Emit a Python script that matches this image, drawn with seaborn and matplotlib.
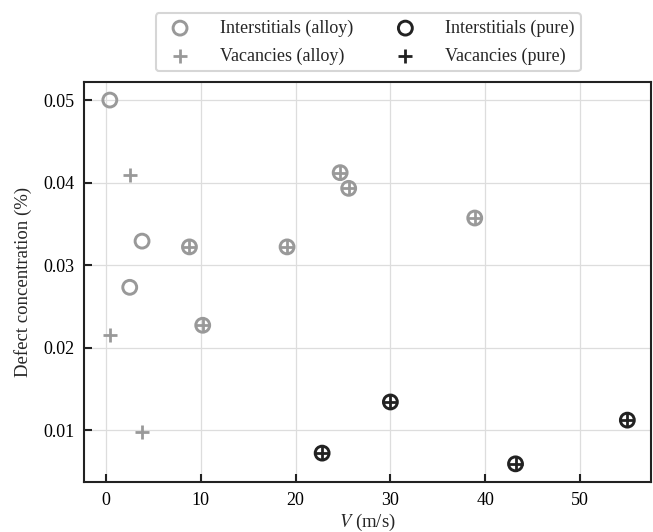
import matplotlib
matplotlib.use("Agg")
import matplotlib.pyplot as plt
import seaborn as sns
import pandas as pd

# Data
int_alloy_v = [0.4, 3.8, 2.5, 8.8, 10.2, 19.1, 24.7, 25.6, 38.9]
int_alloy_c = [0.0500, 0.0329, 0.0273, 0.0322, 0.0227, 0.0322, 0.0412, 0.0393, 0.0357]
vac_alloy_v = [2.5, 0.4, 3.8, 8.8, 10.2, 19.1, 24.7, 25.6, 38.9]
vac_alloy_c = [0.0409, 0.0215, 0.0098, 0.0322, 0.0227, 0.0322, 0.0412, 0.0393, 0.0357]
int_pure_v = [22.8, 30.0, 43.2, 55.0]
int_pure_c = [0.0072, 0.0134, 0.0059, 0.0112]
vac_pure_v = [22.8, 30.0, 43.2, 55.0]
vac_pure_c = [0.0072, 0.0134, 0.0059, 0.0112]

labels = ["Interstitials (alloy)", "Vacancies (alloy)", "Interstitials (pure)", "Vacancies (pure)"]
xticks = [0, 10, 20, 30, 40, 50]
yticks = [0.01, 0.02, 0.03, 0.04, 0.05]

sns.set_theme(style="white")
plt.rcParams["font.family"] = ["Liberation Serif", "DejaVu Serif"]
plt.rcParams["mathtext.fontset"] = "stix"

fig = plt.figure(figsize=(6.53, 5.32), dpi=100)
ax = fig.add_axes([0.129, 0.094, 0.868, 0.752])

grey = "#999999"
black = "#222222"

series = [
    (int_alloy_v, int_alloy_c, labels[0], "o", grey),
    (vac_alloy_v, vac_alloy_c, labels[1], "+", grey),
    (int_pure_v, int_pure_c, labels[2], "o", black),
    (vac_pure_v, vac_pure_c, labels[3], "+", black),
]
for xs, ys, lab, m, col in series:
    df = pd.DataFrame({"V": xs, "c": ys})
    if m == "o":
        sns.scatterplot(data=df, x="V", y="c", ax=ax, marker="o", s=100,
                        facecolors="none", edgecolor=col, linewidth=2.1,
                        label=lab, zorder=3)
    else:
        sns.scatterplot(data=df, x="V", y="c", ax=ax, marker="+", s=90,
                        color=col, linewidth=2.0, label=lab, zorder=4)

ax.set_xlim(-2.3, 57.5)
ax.set_ylim(0.0037, 0.0522)
ax.set_xticks(xticks)
ax.set_yticks(yticks)
ax.set_xticklabels([str(t) for t in xticks])
ax.set_yticklabels([f"{t:.2f}" for t in yticks])
ax.grid(True, color="#dddddd", linewidth=0.9)
ax.set_axisbelow(True)
for sp in ax.spines.values():
    sp.set_color("#222222")
    sp.set_linewidth(1.5)
ax.tick_params(axis="both", which="major", direction="in", length=6, width=1.5,
               labelsize=13, colors="#222222", labelcolor="black",
               left=True, bottom=True, top=False, right=False, pad=7)
ax.set_xlabel("$V$ (m/s)", fontsize=13.5, labelpad=2)
ax.set_ylabel("Defect concentration (%)", fontsize=13.5, labelpad=8)

handles, labs = ax.get_legend_handles_labels()
ax.get_legend().remove()
leg = fig.legend(handles, labs, loc="upper center", bbox_to_anchor=(0.564, 0.992),
                 ncol=2, fontsize=13, frameon=True, fancybox=True,
                 edgecolor="#cccccc", columnspacing=1.9, handletextpad=1.2,
                 borderpad=0.35, labelspacing=0.6)
leg.get_frame().set_linewidth(1.5)

fig.savefig("out.png", dpi=100)
